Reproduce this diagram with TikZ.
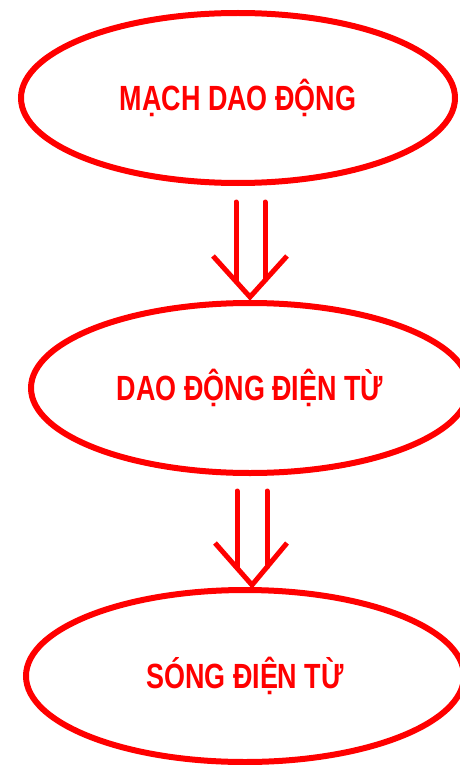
\documentclass[tikz,border=0pt]{standalone}
\usepackage{fontspec}
\setmainfont{Liberation Sans}
\usetikzlibrary{shapes.geometric,calc}
\definecolor{rd}{RGB}{255,0,0}
\tikzset{
  oval/.style={draw=rd, line width=6pt, ellipse, inner sep=0pt, text=rd,
    font=\fontsize{35}{35}\selectfont\bfseries},
  shaft/.style={draw=rd, line width=5pt, line cap=round},
  vhead/.style={draw=rd, line width=5pt, line cap=butt, line join=miter}
}
\newcommand{\lbl}[1]{\scalebox{0.77}[1]{#1}}
\begin{document}
\begin{tikzpicture}[x=1pt,y=-1pt]
\useasboundingbox (0,0) rectangle (460,765);
\clip (0,0) rectangle (460,765);
\node[oval, minimum width=434pt, minimum height=170pt] (a) at (238,98) {\lbl{MẠCH DAO ĐỘNG}};
\node[oval, minimum width=438pt, minimum height=170pt] (b) at (250,388) {\lbl{DAO ĐỘNG ĐIỆN TỪ}};
\node[oval, minimum width=438pt, minimum height=172pt] (c) at (245,676) {\raisebox{-8pt}{\lbl{SÓNG ĐIỆN TỪ}}};
% arrow 1
\coordinate (p1) at ($(b.north)+(0,-3)$);
\coordinate (s1) at ($(a.south)+(0,16)$);
\draw[shaft] ($(s1 -| p1)+(-14,0)$) -- ($(p1)+(-14,-16)$);
\draw[shaft] ($(s1 -| p1)+(15,0)$) -- ($(p1)+(15,-17)$);
\draw[vhead] ($(p1)+(-37,-41)$) -- (p1) -- ($(p1)+(37,-41)$);
% arrow 2
\coordinate (p2) at ($(c.north)+(7,-2)$);
\coordinate (s2) at ($(b.south)+(0,15)$);
\draw[shaft] ($(s2 -| p2)+(-15,0)$) -- ($(p2)+(-15,-17)$);
\draw[shaft] ($(s2 -| p2)+(15,0)$) -- ($(p2)+(15,-18)$);
\draw[vhead] ($(p2)+(-37,-42)$) -- (p2) -- ($(p2)+(35,-42)$);
\end{tikzpicture}
\end{document}
